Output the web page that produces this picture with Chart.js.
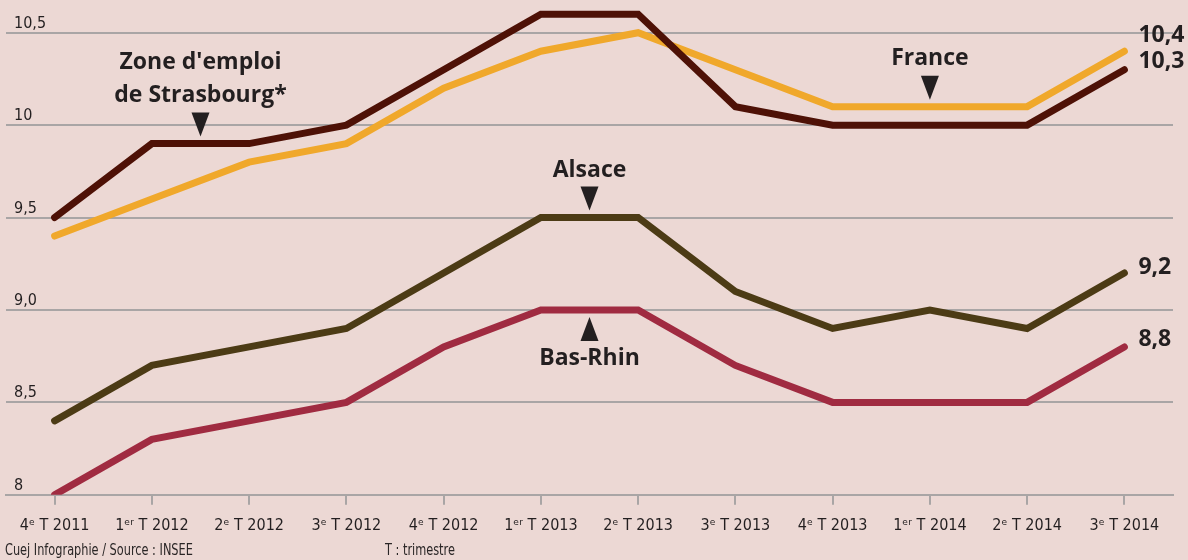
<!DOCTYPE html>
<html lang="fr">
<head>
    <meta charset="UTF-8">
    <title>Taux de chômage</title>
    <style>
        html, body {
            margin: 0;
            padding: 0;
            width: 1188px;
            height: 560px;
            background: #ecd8d4;
            overflow: hidden;
        }
        #wrap {
            position: relative;
            width: 1188px;
            height: 560px;
        }
        .foot {
            position: absolute;
            top: 541px;
            font-family: 'Liberation Sans Narrow', 'DejaVu Sans Condensed', sans-serif;
            font-size: 15px;
            color: #2a2626;
            transform-origin: left top;
            transform: scaleX(0.84);
            white-space: nowrap;
        }
    </style>
</head>
<body>
    <div id="wrap">
        <canvas id="canvas" width="1188" height="560"></canvas>
        <div class="foot" style="left:5px;">Cuej Infographie / Source : INSEE</div>
        <div class="foot" style="left:385px;">T : trimestre</div>
    </div>

    <script src="https://cdnjs.cloudflare.com/ajax/libs/Chart.js/4.4.0/chart.umd.min.js"></script>
    <script>
        // trimestres
        const quarters = ['4ᵉ T 2011', '1ᵉʳ T 2012', '2ᵉ T 2012', '3ᵉ T 2012', '4ᵉ T 2012', '1ᵉʳ T 2013',
            '2ᵉ T 2013', '3ᵉ T 2013', '4ᵉ T 2013', '1ᵉʳ T 2014', '2ᵉ T 2014', '3ᵉ T 2014'];

        const strasbourg = [9.5, 9.9, 9.9, 10.0, 10.3, 10.6, 10.6, 10.1, 10.0, 10.0, 10.0, 10.3];
        const france = [9.4, 9.6, 9.8, 9.9, 10.2, 10.4, 10.5, 10.3, 10.1, 10.1, 10.1, 10.4];
        const alsace = [8.4, 8.7, 8.8, 8.9, 9.2, 9.5, 9.5, 9.1, 8.9, 9.0, 8.9, 9.2];
        const basRhin = [8.0, 8.3, 8.4, 8.5, 8.8, 9.0, 9.0, 8.7, 8.5, 8.5, 8.5, 8.8];

        const yTicks = [8, 8.5, 9, 9.5, 10, 10.5];
        const yTickLabels = ['8', '8,5', '9,0', '9,5', '10', '10,5'];

        const endLabels = ['10,3', '10,4', '9,2', '8,8'];

        const condensed = "'Liberation Sans Narrow', 'DejaVu Sans Condensed', sans-serif";
        const boldFont = "bold 23px 'Open Sans', 'Noto Sans', sans-serif";
        const textColor = '#231f20';

        // series labels with their arrows
        const notes = [
            { lines: ["Zone d'emploi", 'de Strasbourg*'], index: 1.5, value: 9.9, dir: 1, gap: 48 },
            { lines: ['France'], index: 9, value: 10.1, dir: 1, gap: 48 },
            { lines: ['Alsace'], index: 5.5, value: 9.5, dir: 1, gap: 47 },
            { lines: ['Bas-Rhin'], index: 5.5, value: 9.0, dir: -1, gap: 48 }
        ];
        const endOffsets = [-8, -16, -6, -7];

        const decorations = {
            id: 'decorations',
            afterDraw(chart) {
                const ctx = chart.ctx;
                const x = chart.scales.x;
                const y = chart.scales.y;
                ctx.save();

                // y tick labels sitting above the grid lines
                ctx.font = '16px ' + condensed;
                ctx.fillStyle = textColor;
                ctx.textAlign = 'left';
                ctx.textBaseline = 'alphabetic';
                yTicks.forEach((v, i) => {
                    ctx.fillText(yTickLabels[i], 14, y.getPixelForValue(v) - 5);
                });

                // arrows + names
                ctx.font = boldFont;
                ctx.textAlign = 'center';
                ctx.textBaseline = 'middle';
                notes.forEach(n => {
                    const px = x.getPixelForValue(n.index);
                    const py = y.getPixelForValue(n.value);
                    const tip = py - n.dir * 7;
                    const base = tip - n.dir * 24;
                    ctx.beginPath();
                    ctx.moveTo(px, tip);
                    ctx.lineTo(px - 9, base);
                    ctx.lineTo(px + 9, base);
                    ctx.closePath();
                    ctx.fill();
                    const first = py - n.dir * n.gap;
                    const top = n.dir === 1 ? first - (n.lines.length - 1) * 33 : first;
                    n.lines.forEach((t, k) => ctx.fillText(t, px, top + k * 33));
                });

                // end values
                ctx.textAlign = 'left';
                const last = quarters.length - 1;
                chart.data.datasets.forEach((ds, i) => {
                    const py = y.getPixelForValue(ds.data[last]);
                    ctx.fillText(endLabels[i], x.getPixelForValue(last) + 14, py + endOffsets[i]);
                });
                ctx.restore();
            }
        };

        const line = (label, data, color) => ({
            label: label,
            data: data,
            borderColor: color,
            borderWidth: 7,
            borderCapStyle: 'round',
            borderJoinStyle: 'miter',
            pointRadius: 0,
            tension: 0,
            fill: false
        });

        new Chart(document.getElementById('canvas'), {
            type: 'line',
            data: {
                labels: quarters,
                datasets: [
                    line("Zone d'emploi de Strasbourg", strasbourg, '#4e1106'),
                    line('France', france, '#f0a82b'),
                    line('Alsace', alsace, '#4c3b15'),
                    line('Bas-Rhin', basRhin, '#a02b41')
                ]
            },
            options: {
                responsive: false,
                animation: false,
                layout: { padding: { left: 6, right: 15, top: 5, bottom: 14 } },
                plugins: {
                    legend: { display: false },
                    tooltip: { enabled: false }
                },
                scales: {
                    x: {
                        offset: true,
                        grid: {
                            drawOnChartArea: false,
                            color: '#a9a5a5',
                            lineWidth: 2,
                            tickLength: 10
                        },
                        border: { color: '#a9a5a5', width: 2 },
                        ticks: {
                            color: textColor,
                            font: { family: condensed, size: 16 },
                            padding: 11,
                            maxRotation: 0,
                            autoSkip: false
                        }
                    },
                    y: {
                        min: 8,
                        max: 10.65,
                        afterBuildTicks: s => { s.ticks = yTicks.map(v => ({ value: v })); },
                        ticks: { display: false },
                        grid: { color: '#a9a5a5', lineWidth: 2, drawTicks: false },
                        border: { display: false }
                    }
                }
            },
            plugins: [decorations]
        });
    </script>
</body>
</html>
